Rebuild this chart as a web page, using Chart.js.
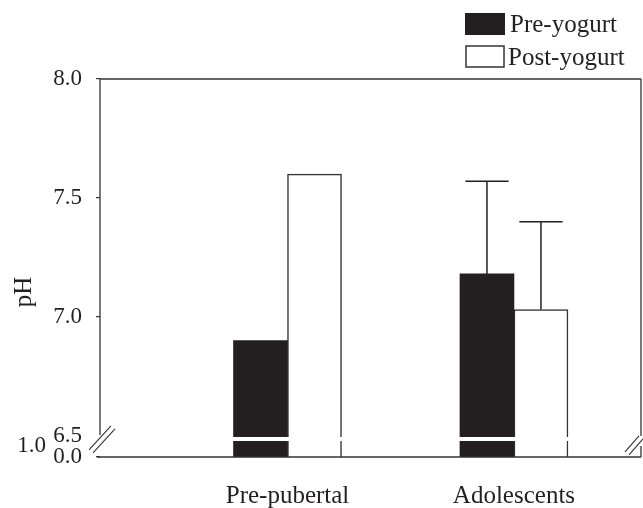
<!DOCTYPE html>
<html>
<head>
<meta charset="utf-8">
<script src="https://cdn.jsdelivr.net/npm/chart.js@4"></script>
<style>
    html, body { margin: 0; padding: 0; background: #fff; }
    #wrap { width: 643px; height: 508px; }
</style>
</head>
<body>
<div id="wrap"><canvas id="chart" width="643" height="508"></canvas></div>
<script>
// pH avant / apres yaourt
const groups = ['Pre-pubertal', 'Adolescents'];
const groupX = [1, 2];
const preYogurt = [6.90, 7.18];
const postYogurt = [7.60, 7.03];
const preErr = [null, 0.39];
const postErr = [null, 0.37];
const yTickValues = [6.41, 6.5, 7.0, 7.5, 8.0];
const yTickLabels = ['0.0', '6.5', '7.0', '7.5', '8.0'];
const breakValue = 6.49;

const FONT = 'Liberation Serif';
const INK = '#231f20';
const LINE = '#333333';

// barres d'erreur (vers le haut seulement)
const errorBars = {
    id: 'errorBars',
    afterDatasetsDraw(chart) {
        const ctx = chart.ctx;
        const y = chart.scales.y;
        const errs = [preErr, postErr];
        chart.data.datasets.forEach((ds, d) => {
            const meta = chart.getDatasetMeta(d);
            meta.data.forEach((bar, i) => {
                const e = errs[d][i];
                if (e == null) return;
                const top = y.getPixelForValue(ds.data[i].y + e);
                const half = bar.width * 0.4;
                ctx.save();
                ctx.strokeStyle = INK;
                ctx.lineWidth = 1.5;
                ctx.beginPath();
                ctx.moveTo(bar.x, bar.y);
                ctx.lineTo(bar.x, top);
                ctx.moveTo(bar.x - half, top);
                ctx.lineTo(bar.x + half, top);
                ctx.stroke();
                ctx.restore();
            });
        });
    }
};

// cadre, coupure d'axe, legende, textes
const frame = {
    id: 'frame',
    afterDraw(chart) {
        const ctx = chart.ctx;
        const a = chart.chartArea;
        const y = chart.scales.y;
        const yb = y.getPixelForValue(breakValue);
        ctx.save();

        // coupure dans les barres
        ctx.fillStyle = '#fff';
        chart.data.datasets.forEach((ds, d) => {
            chart.getDatasetMeta(d).data.forEach(bar => {
                ctx.fillRect(bar.x - bar.width / 2 - 1, yb - 1, bar.width + 2, 4);
            });
        });

        ctx.strokeStyle = LINE;
        ctx.lineWidth = 1.3;
        ctx.beginPath();
        // haut
        ctx.moveTo(a.left, a.top);
        ctx.lineTo(a.right, a.top);
        // gauche
        ctx.moveTo(a.left, a.top);
        ctx.lineTo(a.left, yb - 3);
        // droite
        ctx.moveTo(a.right, a.top);
        ctx.lineTo(a.right, yb - 2);
        ctx.moveTo(a.right, yb + 8);
        ctx.lineTo(a.right, a.bottom);
        // bas
        ctx.moveTo(a.left - 3, a.bottom);
        ctx.lineTo(a.right, a.bottom);
        ctx.stroke();

        // traits de coupure
        ctx.lineWidth = 1.1;
        ctx.beginPath();
        [[0, 0], [4, 3]].forEach(([dx, dy]) => {
            ctx.moveTo(a.left - 11 + dx, yb + 12 + dy);
            ctx.lineTo(a.left + 11 + dx, yb - 12 + dy);
            ctx.moveTo(a.right - 12 + dx - 4, yb + 14 + dy);
            ctx.lineTo(a.right + 2 + dx - 4, yb - 2 + dy);
        });
        ctx.stroke();

        // textes
        ctx.fillStyle = INK;
        ctx.font = '23px "' + FONT + '"';
        ctx.textAlign = 'right';
        ctx.textBaseline = 'middle';
        ctx.fillText('1.0', 46, yb + 8);

        ctx.save();
        ctx.translate(24, 292);
        ctx.rotate(-Math.PI / 2);
        ctx.textAlign = 'center';
        ctx.font = '25px "' + FONT + '"';
        ctx.fillText('pH', 0, 0);
        ctx.restore();

        // legende
        ctx.font = '25px "' + FONT + '"';
        ctx.textAlign = 'left';
        ctx.fillStyle = INK;
        ctx.fillRect(465, 13, 40, 22);
        ctx.fillText(chart.data.datasets[0].label, 510, 25);
        ctx.fillStyle = '#fff';
        ctx.strokeStyle = LINE;
        ctx.lineWidth = 1.5;
        ctx.fillRect(466, 46, 38, 21);
        ctx.strokeRect(466, 46, 38, 21);
        ctx.fillStyle = INK;
        ctx.fillText(chart.data.datasets[1].label, 508, 58);
        ctx.restore();
    }
};

new Chart(document.getElementById('chart'), {
    type: 'bar',
    data: {
        datasets: [
            {
                label: 'Pre-yogurt',
                data: groupX.map((x, i) => ({ x: x, y: preYogurt[i] })),
                backgroundColor: INK,
                borderWidth: 0
            },
            {
                label: 'Post-yogurt',
                data: groupX.map((x, i) => ({ x: x, y: postYogurt[i] })),
                backgroundColor: '#fff',
                borderColor: LINE,
                borderWidth: 1.5
            }
        ]
    },
    options: {
        responsive: false,
        animation: false,
        devicePixelRatio: 1,
        barThickness: 54,
        layout: { padding: { top: 79, right: 2, left: 0, bottom: 0 } },
        plugins: { legend: { display: false }, tooltip: { enabled: false } },
        scales: {
            x: {
                type: 'linear',
                min: 0.172,
                max: 2.561,
                offset: false,
                afterBuildTicks: s => { s.ticks = groupX.map(v => ({ value: v })); },
                afterFit: s => { s.height = 51; },
                grid: { display: false },
                border: { display: false },
                ticks: {
                    autoSkip: false,
                    maxRotation: 0,
                    padding: 16,
                    color: INK,
                    font: { family: FONT, size: 25 },
                    callback: v => groups[groupX.indexOf(v)]
                }
            },
            y: {
                min: 6.41,
                max: 8.0,
                afterBuildTicks: s => { s.ticks = yTickValues.map(v => ({ value: v })); },
                afterFit: s => { s.width = 100; },
                border: { display: false },
                grid: {
                    drawOnChartArea: false,
                    tickLength: 4,
                    lineWidth: 1.2,
                    color: c => (c.tick && c.tick.value === 6.5) ? 'rgba(0,0,0,0)' : LINE
                },
                ticks: {
                    autoSkip: false,
                    padding: 14,
                    color: INK,
                    font: { family: FONT, size: 23 },
                    callback: v => yTickLabels[yTickValues.indexOf(v)]
                }
            }
        }
    },
    plugins: [errorBars, frame]
});
</script>
</body>
</html>
